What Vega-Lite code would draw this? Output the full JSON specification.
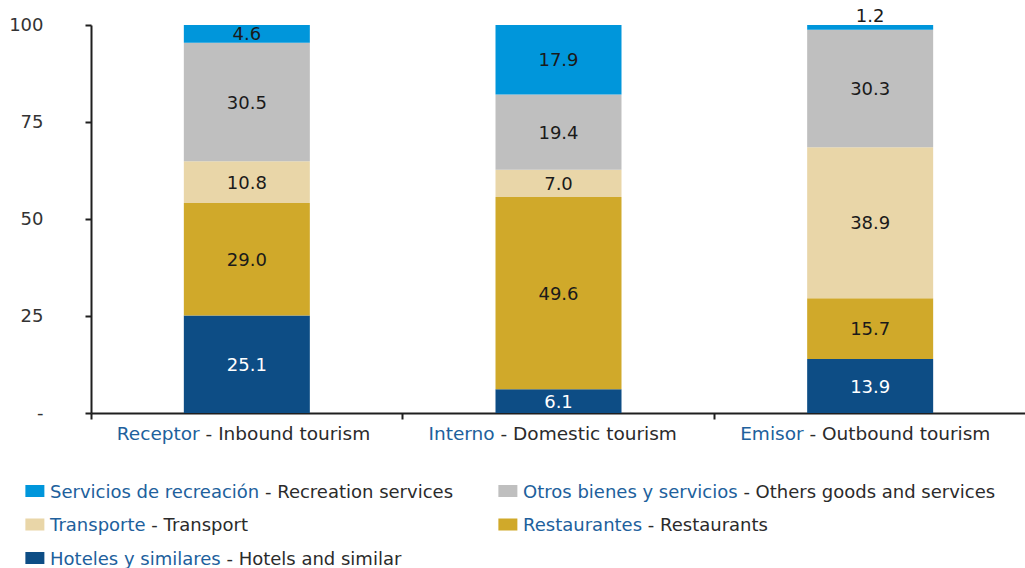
{
  "$schema": "https://vega.github.io/schema/vega-lite/v6.json",
  "padding": {"left": 8, "top": 8, "right": 0, "bottom": 0},
  "autosize": {"type": "pad"},
  "background": "white",
  "config": {"font": "DejaVu Sans", "view": {"stroke": null}},
  "spacing": 36,
  "datasets": {
    "gasto": [
      {"categoria": "Receptor - Inbound tourism", "tipo": "Hoteles y similares - Hotels and similar", "valor": 25.1},
      {"categoria": "Receptor - Inbound tourism", "tipo": "Restaurantes - Restaurants", "valor": 29.0},
      {"categoria": "Receptor - Inbound tourism", "tipo": "Transporte - Transport", "valor": 10.8},
      {"categoria": "Receptor - Inbound tourism", "tipo": "Otros bienes y servicios - Others goods and services", "valor": 30.5},
      {"categoria": "Receptor - Inbound tourism", "tipo": "Servicios de recreación - Recreation services", "valor": 4.6},
      {"categoria": "Interno - Domestic tourism", "tipo": "Hoteles y similares - Hotels and similar", "valor": 6.1},
      {"categoria": "Interno - Domestic tourism", "tipo": "Restaurantes - Restaurants", "valor": 49.6},
      {"categoria": "Interno - Domestic tourism", "tipo": "Transporte - Transport", "valor": 7.0},
      {"categoria": "Interno - Domestic tourism", "tipo": "Otros bienes y servicios - Others goods and services", "valor": 19.4},
      {"categoria": "Interno - Domestic tourism", "tipo": "Servicios de recreación - Recreation services", "valor": 17.9},
      {"categoria": "Emisor - Outbound tourism", "tipo": "Hoteles y similares - Hotels and similar", "valor": 13.9},
      {"categoria": "Emisor - Outbound tourism", "tipo": "Restaurantes - Restaurants", "valor": 15.7},
      {"categoria": "Emisor - Outbound tourism", "tipo": "Transporte - Transport", "valor": 38.9},
      {"categoria": "Emisor - Outbound tourism", "tipo": "Otros bienes y servicios - Others goods and services", "valor": 30.3},
      {"categoria": "Emisor - Outbound tourism", "tipo": "Servicios de recreación - Recreation services", "valor": 1.2}
    ],
    "categorias": [
      {"categoria": "Receptor - Inbound tourism", "es": "Receptor"},
      {"categoria": "Interno - Domestic tourism", "es": "Interno"},
      {"categoria": "Emisor - Outbound tourism", "es": "Emisor"}
    ],
    "leyenda": [
      {"tipo": "Servicios de recreación - Recreation services", "es": "Servicios de recreación"},
      {"tipo": "Otros bienes y servicios - Others goods and services", "es": "Otros bienes y servicios"},
      {"tipo": "Transporte - Transport", "es": "Transporte"},
      {"tipo": "Restaurantes - Restaurants", "es": "Restaurantes"},
      {"tipo": "Hoteles y similares - Hotels and similar", "es": "Hoteles y similares"}
    ]
  },
  "vconcat": [
    {
      "width": 935,
      "height": 388,
      "layer": [
        {
          "data": {"name": "gasto"},
          "transform": [
            {"calculate": "indexof(['Hoteles y similares - Hotels and similar','Restaurantes - Restaurants','Transporte - Transport','Otros bienes y servicios - Others goods and services','Servicios de recreación - Recreation services'], datum.tipo)", "as": "capa"},
            {"stack": "valor", "groupby": ["categoria"], "sort": [{"field": "capa", "order": "ascending"}], "as": ["y0", "y1"]},
            {"calculate": "(datum.y0 + datum.y1) / 2", "as": "medio"}
          ],
          "layer": [
            {
              "mark": {"type": "bar", "size": 126},
              "encoding": {
                "x": {
                  "field": "categoria", "type": "nominal",
                  "sort": ["Receptor - Inbound tourism", "Interno - Domestic tourism", "Emisor - Outbound tourism"],
                  "scale": {"paddingInner": 0, "paddingOuter": 0},
                  "axis": {"labels": false, "title": null, "domainColor": "#1f1f1f", "domainWidth": 2, "tickColor": "#1f1f1f", "tickWidth": 2, "tickSize": 6, "bandPosition": 0, "grid": false}
                },
                "y": {
                  "field": "y0", "type": "quantitative",
                  "scale": {"domain": [0, 100], "nice": false},
                  "axis": {"values": [0, 25, 50, 75, 100], "title": null, "grid": false, "labelExpr": "datum.value === 0 ? '-' : datum.label", "labelFontSize": 18, "labelColor": "#333333", "labelPadding": 42, "tickSize": 6, "tickWidth": 2, "tickColor": "#1f1f1f", "domainColor": "#1f1f1f", "domainWidth": 2}
                },
                "y2": {"field": "y1"},
                "color": {
                  "field": "tipo", "type": "nominal",
                  "scale": {
                    "domain": ["Hoteles y similares - Hotels and similar", "Restaurantes - Restaurants", "Transporte - Transport", "Otros bienes y servicios - Others goods and services", "Servicios de recreación - Recreation services"],
                    "range": ["#0d4d85", "#d0a92a", "#e9d6a8", "#bfbfbf", "#0096db"]
                  },
                  "legend": null
                }
              }
            },
            {
              "transform": [{"filter": "datum.valor >= 2"}],
              "mark": {"type": "text", "fontSize": 18, "baseline": "alphabetic", "dy": 6.5},
              "encoding": {
                "x": {"field": "categoria", "type": "nominal", "sort": ["Receptor - Inbound tourism", "Interno - Domestic tourism", "Emisor - Outbound tourism"]},
                "y": {"field": "medio", "type": "quantitative"},
                "text": {"field": "valor", "type": "quantitative", "format": ".1f"},
                "color": {"condition": {"test": "datum.tipo === 'Hoteles y similares - Hotels and similar'", "value": "#ffffff"}, "value": "#1a1a1a"}
              }
            },
            {
              "transform": [{"filter": "datum.valor < 2"}],
              "mark": {"type": "text", "fontSize": 18, "baseline": "alphabetic", "dy": -3, "color": "#1a1a1a"},
              "encoding": {
                "x": {"field": "categoria", "type": "nominal", "sort": ["Receptor - Inbound tourism", "Interno - Domestic tourism", "Emisor - Outbound tourism"]},
                "y": {"field": "y1", "type": "quantitative"},
                "text": {"field": "valor", "type": "quantitative", "format": ".1f"}
              }
            }
          ]
        },
        {
          "data": {"name": "categorias"},
          "layer": [
            {
              "mark": {"type": "text", "fontSize": 18.5, "align": "left", "baseline": "alphabetic", "dx": -130, "dy": 27, "color": "#2b2b2b"},
              "encoding": {
                "x": {"field": "categoria", "type": "nominal", "sort": ["Receptor - Inbound tourism", "Interno - Domestic tourism", "Emisor - Outbound tourism"]},
                "y": {"datum": 0, "type": "quantitative"},
                "text": {"field": "categoria"}
              }
            },
            {
              "mark": {"type": "text", "fontSize": 18.5, "align": "left", "baseline": "alphabetic", "dx": -130, "dy": 27, "color": "#ffffff", "stroke": "#ffffff", "strokeWidth": 2},
              "encoding": {
                "x": {"field": "categoria", "type": "nominal", "sort": ["Receptor - Inbound tourism", "Interno - Domestic tourism", "Emisor - Outbound tourism"]},
                "y": {"datum": 0, "type": "quantitative"},
                "text": {"field": "es"}
              }
            },
            {
              "mark": {"type": "text", "fontSize": 18.5, "align": "left", "baseline": "alphabetic", "dx": -130, "dy": 27, "color": "#20609c"},
              "encoding": {
                "x": {"field": "categoria", "type": "nominal", "sort": ["Receptor - Inbound tourism", "Interno - Domestic tourism", "Emisor - Outbound tourism"]},
                "y": {"datum": 0, "type": "quantitative"},
                "text": {"field": "es"}
              }
            }
          ]
        }
      ]
    },
    {
      "data": {"name": "leyenda"},
      "facet": {
        "field": "tipo", "type": "nominal", "title": null,
        "sort": ["Servicios de recreación - Recreation services", "Otros bienes y servicios - Others goods and services", "Transporte - Transport", "Restaurantes - Restaurants", "Hoteles y similares - Hotels and similar"],
        "header": {"title": null, "labelExpr": "''", "labelFontSize": 1, "labelPadding": 0, "labelColor": "transparent"}
      },
      "columns": 2,
      "bounds": "flush",
      "spacing": {"row": 13.5, "column": 13},
      "spec": {
        "width": 460,
        "height": 20,
        "layer": [
          {
            "mark": {"type": "point", "shape": "M-1,-0.632L1,-0.632L1,0.632L-1,0.632Z", "filled": true, "size": 361, "opacity": 1, "strokeWidth": 0},
            "encoding": {
              "x": {"datum": -61, "type": "quantitative", "scale": {"domain": [0, 460]}, "axis": null},
              "color": {
                "field": "tipo", "type": "nominal",
                "scale": {
                  "domain": ["Hoteles y similares - Hotels and similar", "Restaurantes - Restaurants", "Transporte - Transport", "Otros bienes y servicios - Others goods and services", "Servicios de recreación - Recreation services"],
                  "range": ["#0d4d85", "#d0a92a", "#e9d6a8", "#bfbfbf", "#0096db"]
                },
                "legend": null
              }
            }
          },
          {
            "mark": {"type": "text", "fontSize": 18, "align": "left", "baseline": "alphabetic", "dy": 6.5, "color": "#2b2b2b"},
            "encoding": {
              "x": {"datum": -44.5, "type": "quantitative"},
              "text": {"field": "tipo"}
            }
          },
          {
            "mark": {"type": "text", "fontSize": 18, "align": "left", "baseline": "alphabetic", "dy": 6.5, "color": "#ffffff", "stroke": "#ffffff", "strokeWidth": 2},
            "encoding": {
              "x": {"datum": -44.5, "type": "quantitative"},
              "text": {"field": "es"}
            }
          },
          {
            "mark": {"type": "text", "fontSize": 18, "align": "left", "baseline": "alphabetic", "dy": 6.5, "color": "#20609c"},
            "encoding": {
              "x": {"datum": -44.5, "type": "quantitative"},
              "text": {"field": "es"}
            }
          }
        ]
      }
    }
  ]
}
